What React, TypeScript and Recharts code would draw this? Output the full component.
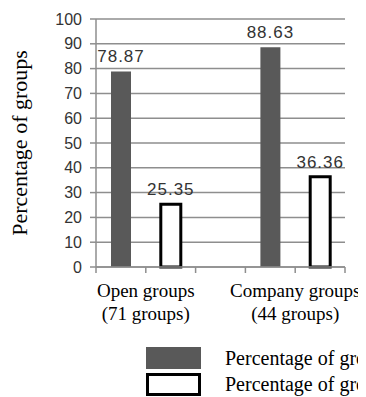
import { BarChart, Bar, XAxis, YAxis, CartesianGrid, LabelList } from "recharts"

const groupNames = ["Open groups", "Company groups"]
const groupSizes = ["(71 groups)", "(44 groups)"]
const seriesNames = ["Percentage of groups with activity", "Percentage of groups with posts"]
const darkValues = [78.87, 88.63]
const whiteValues = [25.35, 36.36]
const yTicks = [0, 10, 20, 30, 40, 50, 60, 70, 80, 90, 100]
const xTicks = [0, 1, 2, 3, 4, 5]

// each group takes 2 slots, with an empty slot between the groups
const data = groupNames.flatMap((_, i) => [
  { x: i * 3 + 0.5, dark: darkValues[i] },
  { x: i * 3 + 1.5, white: whiteValues[i] },
])

const GRID = "#8e8e8e"
const DARK = "#595959"
const SERIF = "'Liberation Serif', 'Times New Roman', serif"
const SANS = "'Liberation Sans', Arial, sans-serif"

function GroupTick(props: any) {
  const { x, y, payload } = props
  const idx = payload.value === 1 ? 0 : payload.value === 4 ? 1 : -1
  if (idx < 0) return null
  return (
    <text x={x} y={y} textAnchor="middle" fontFamily={SERIF} fontSize={19} fill="#000">
      <tspan x={x} dy={22}>{groupNames[idx]}</tspan>
      <tspan x={x} dy={23}>{groupSizes[idx]}</tspan>
    </text>
  )
}

export default function App() {
  return (
    <div style={{ position: "relative", width: 358, height: 389, overflow: "hidden", background: "#fff" }}>
      <BarChart
        width={358}
        height={389}
        data={data}
        margin={{ top: 11, right: 21, bottom: 70, left: 0 }}
        barSize={20}
      >
        <CartesianGrid vertical={false} stroke={GRID} strokeWidth={1.5} />
        <XAxis
          dataKey="x"
          type="number"
          domain={[0, 5]}
          ticks={xTicks}
          interval={0}
          height={60}
          stroke={GRID}
          strokeWidth={1.5}
          tickSize={6}
          tick={<GroupTick />}
        />
        <YAxis
          domain={[0, 100]}
          ticks={yTicks}
          interval={0}
          width={88}
          stroke={GRID}
          strokeWidth={1.5}
          tickSize={6}
          tick={{ fontFamily: SANS, fontSize: 16, fill: "#333", dx: -6 }}
          label={{
            value: "Percentage of groups",
            angle: -90,
            position: "insideLeft",
            offset: 11,
            style: { fontFamily: SERIF, fontSize: 22, fill: "#000", textAnchor: "middle" },
          }}
        />
        <Bar dataKey="dark" stackId="a" fill={DARK} isAnimationActive={false}>
          <LabelList dataKey="dark" position="top" offset={9} style={{ fontFamily: SANS, fontSize: 17, fill: "#333", letterSpacing: 1 }} />
        </Bar>
        <Bar dataKey="white" stackId="a" fill="#fff" stroke="#000" strokeWidth={3} isAnimationActive={false}>
          <LabelList dataKey="white" position="top" offset={9} style={{ fontFamily: SANS, fontSize: 17, fill: "#333", letterSpacing: 1 }} />
        </Bar>
      </BarChart>
      <div style={{ position: "absolute", left: 138, top: 337, fontFamily: SERIF, fontSize: 20, whiteSpace: "nowrap", lineHeight: "26px" }}>
        <div style={{ display: "flex", alignItems: "center" }}>
          <span style={{ width: 55, height: 22, background: DARK, display: "inline-block", marginRight: 24 }} />
          {seriesNames[0]}
        </div>
        <div style={{ display: "flex", alignItems: "center" }}>
          <span style={{ width: 49, height: 17, background: "#fff", border: "3px solid #000", display: "inline-block", marginRight: 24 }} />
          {seriesNames[1]}
        </div>
      </div>
    </div>
  )
}
